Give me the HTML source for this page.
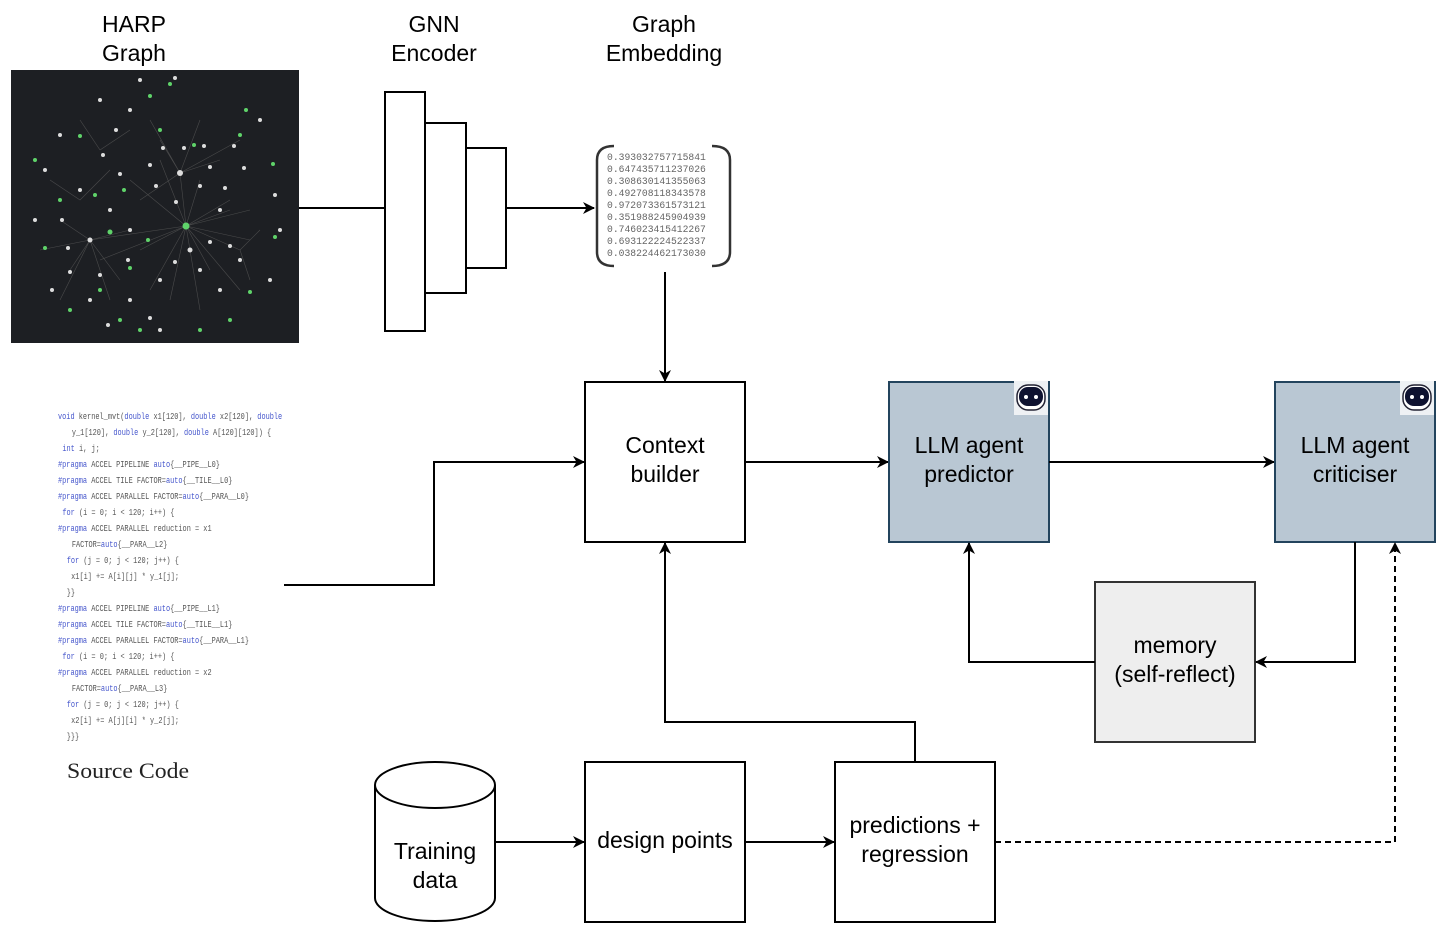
<!DOCTYPE html>
<html><head><meta charset="utf-8"><style>
html,body{margin:0;padding:0;background:#fff;}
svg{display:block;}
.t{font-family:"Liberation Sans",sans-serif;font-size:23px;fill:#000;text-anchor:middle;}
.c{font-family:"Liberation Mono",monospace;font-size:9.5px;fill:#555;}
.k{fill:#4455cc;}
.e{font-family:"Liberation Mono",monospace;font-size:9.7px;fill:#666;}
</style></head><body>
<svg width="1454" height="952" viewBox="0 0 1454 952" xmlns="http://www.w3.org/2000/svg">
<defs><marker id="a" markerWidth="12" markerHeight="12" refX="11" refY="6" orient="auto" markerUnits="userSpaceOnUse"><path d="M0,0 L12,6 L0,12 L3.5,6 z" fill="#000"/></marker></defs>
<text class="t" x="134" y="32">HARP</text><text class="t" x="134" y="61">Graph</text>
<text class="t" x="434" y="32">GNN</text><text class="t" x="434" y="61">Encoder</text>
<text class="t" x="664" y="32">Graph</text><text class="t" x="664" y="61">Embedding</text>
<rect x="11" y="70" width="288" height="273" fill="#1d1f23"/>
<g stroke="#555" stroke-width="0.6" opacity="0.8">
<path d="M186 226 L130 180 M186 226 L180 173 M186 226 L240 250 M186 226 L90 240 M186 226 L200 180 M186 226 L160 160 M186 226 L230 210 M186 226 L100 260 M186 226 L210 270 M186 226 L150 290 M180 173 L160 140 M180 173 L200 120 M180 173 L220 160 M180 173 L140 200 M90 240 L60 220 M90 240 L70 270 M90 240 L120 280 M240 250 L260 230 M240 250 L250 280 M80 200 L50 180 M80 200 L110 170 M100 150 L80 120 M100 150 L130 130 M186 226 L250 240 M186 226 L240 290 M186 226 L200 310 M186 226 L170 300 M186 226 L230 200 M186 226 L250 210 M186 226 L140 250 M90 240 L40 250 M90 240 L60 300 M90 240 L110 300 M90 240 L130 230 M180 173 L240 140 M180 173 L150 120"/>
</g>
<g fill="#ddd">
<circle cx="180" cy="173" r="3"/><circle cx="163" cy="148" r="2"/><circle cx="184" cy="148" r="2"/><circle cx="204" cy="146" r="2"/><circle cx="210" cy="167" r="2"/><circle cx="200" cy="186" r="2"/><circle cx="156" cy="186" r="2"/><circle cx="176" cy="202" r="2"/><circle cx="150" cy="165" r="2"/><circle cx="225" cy="188" r="2"/><circle cx="244" cy="168" r="2"/><circle cx="234" cy="146" r="2"/><circle cx="90" cy="240" r="2.5"/><circle cx="68" cy="248" r="2"/><circle cx="62" cy="220" r="2"/><circle cx="80" cy="190" r="2"/><circle cx="103" cy="155" r="2"/><circle cx="120" cy="174" r="2"/><circle cx="110" cy="210" r="2"/><circle cx="130" cy="230" r="2"/><circle cx="70" cy="272" r="2"/><circle cx="100" cy="275" r="2"/><circle cx="190" cy="250" r="2.5"/><circle cx="210" cy="242" r="2"/><circle cx="230" cy="246" r="2"/><circle cx="240" cy="260" r="2"/><circle cx="200" cy="270" r="2"/><circle cx="175" cy="262" r="2"/><circle cx="160" cy="280" r="2"/><circle cx="130" cy="300" r="2"/><circle cx="150" cy="318" r="2"/><circle cx="108" cy="325" r="2"/><circle cx="90" cy="300" r="2"/><circle cx="140" cy="80" r="2"/><circle cx="175" cy="78" r="2"/><circle cx="100" cy="100" r="2"/><circle cx="60" cy="135" r="2"/><circle cx="35" cy="220" r="2"/><circle cx="275" cy="195" r="2"/><circle cx="280" cy="230" r="2"/><circle cx="260" cy="120" r="2"/><circle cx="45" cy="170" r="2"/><circle cx="130" cy="110" r="2"/><circle cx="160" cy="330" r="2"/><circle cx="220" cy="290" r="2"/><circle cx="270" cy="280" r="2"/><circle cx="128" cy="260" r="2"/><circle cx="52" cy="290" r="2"/><circle cx="116" cy="130" r="2"/><circle cx="220" cy="210" r="2"/>
</g>
<g fill="#5fd36a">
<circle cx="186" cy="226" r="3.5"/><circle cx="110" cy="232" r="2.5"/><circle cx="194" cy="145" r="2"/><circle cx="80" cy="136" r="2"/><circle cx="45" cy="248" r="2"/><circle cx="70" cy="310" r="2"/><circle cx="120" cy="320" r="2"/><circle cx="150" cy="96" r="2"/><circle cx="160" cy="130" r="2"/><circle cx="240" cy="135" r="2"/><circle cx="273" cy="164" r="2"/><circle cx="250" cy="292" r="2"/><circle cx="200" cy="330" r="2"/><circle cx="35" cy="160" r="2"/><circle cx="124" cy="190" r="2"/><circle cx="60" cy="200" r="2"/><circle cx="100" cy="290" r="2"/><circle cx="130" cy="268" r="2"/><circle cx="148" cy="240" r="2"/><circle cx="170" cy="84" r="2"/><circle cx="246" cy="110" r="2"/><circle cx="275" cy="237" r="2"/><circle cx="95" cy="195" r="2"/><circle cx="140" cy="330" r="2"/><circle cx="230" cy="320" r="2"/>
</g>
<line x1="299" y1="208" x2="385" y2="208" stroke="#000" stroke-width="2"/>
<rect x="385" y="92" width="40" height="239" fill="#fff" stroke="#000" stroke-width="2"/>
<rect x="425" y="123" width="41" height="170" fill="#fff" stroke="#000" stroke-width="2"/>
<rect x="466" y="148" width="40" height="120" fill="#fff" stroke="#000" stroke-width="2"/>
<line x1="506" y1="208" x2="594" y2="208" stroke="#000" stroke-width="2" marker-end="url(#a)"/>
<path d="M614 146 Q597 146 597 160 L597 252 Q597 266 614 266" fill="none" stroke="#333" stroke-width="2.5"/>
<path d="M712 146 Q730 146 730 160 L730 252 Q730 266 712 266" fill="none" stroke="#333" stroke-width="2.5"/>
<g class="e">
<text x="607" y="160">0.393032757715841</text><text x="607" y="172">0.647435711237026</text><text x="607" y="184">0.308630141355063</text><text x="607" y="196">0.492708118343578</text><text x="607" y="208">0.972073361573121</text><text x="607" y="220">0.351988245904939</text><text x="607" y="232">0.746023415412267</text><text x="607" y="244">0.693122224522337</text><text x="607" y="256">0.038224462173030</text>
</g>
<line x1="665" y1="272" x2="665" y2="381" stroke="#000" stroke-width="2" marker-end="url(#a)"/>
<g class="c" transform="translate(58,0) scale(0.73,1) translate(-58,0)">
<text x="58" y="419"><tspan class="k">void</tspan> kernel_mvt(<tspan class="k">double</tspan> x1[120], <tspan class="k">double</tspan> x2[120], <tspan class="k">double</tspan></text>
<text x="77" y="435">y_1[120], <tspan class="k">double</tspan> y_2[120], <tspan class="k">double</tspan> A[120][120]) {</text>
<text x="64" y="451"><tspan class="k">int</tspan> i, j;</text>
<text x="58" y="467"><tspan class="k">#pragma</tspan> ACCEL PIPELINE <tspan class="k">auto</tspan>{__PIPE__L0}</text>
<text x="58" y="483"><tspan class="k">#pragma</tspan> ACCEL TILE FACTOR=<tspan class="k">auto</tspan>{__TILE__L0}</text>
<text x="58" y="499"><tspan class="k">#pragma</tspan> ACCEL PARALLEL FACTOR=<tspan class="k">auto</tspan>{__PARA__L0}</text>
<text x="64" y="515"><tspan class="k">for</tspan> (i = 0; i &lt; 120; i++) {</text>
<text x="58" y="531"><tspan class="k">#pragma</tspan> ACCEL PARALLEL reduction = x1</text>
<text x="77" y="547">FACTOR=<tspan class="k">auto</tspan>{__PARA__L2}</text>
<text x="70" y="563"><tspan class="k">for</tspan> (j = 0; j &lt; 120; j++) {</text>
<text x="76" y="579">x1[i] += A[i][j] * y_1[j];</text>
<text x="70" y="595">}}</text>
<text x="58" y="611"><tspan class="k">#pragma</tspan> ACCEL PIPELINE <tspan class="k">auto</tspan>{__PIPE__L1}</text>
<text x="58" y="627"><tspan class="k">#pragma</tspan> ACCEL TILE FACTOR=<tspan class="k">auto</tspan>{__TILE__L1}</text>
<text x="58" y="643"><tspan class="k">#pragma</tspan> ACCEL PARALLEL FACTOR=<tspan class="k">auto</tspan>{__PARA__L1}</text>
<text x="64" y="659"><tspan class="k">for</tspan> (i = 0; i &lt; 120; i++) {</text>
<text x="58" y="675"><tspan class="k">#pragma</tspan> ACCEL PARALLEL reduction = x2</text>
<text x="77" y="691">FACTOR=<tspan class="k">auto</tspan>{__PARA__L3}</text>
<text x="70" y="707"><tspan class="k">for</tspan> (j = 0; j &lt; 120; j++) {</text>
<text x="76" y="723">x2[i] += A[j][i] * y_2[j];</text>
<text x="70" y="739">}}}</text>
</g>
<text x="67" y="778" textLength="122" lengthAdjust="spacingAndGlyphs" style="font-family:'Liberation Serif',serif;font-size:22px;fill:#222">Source Code</text>
<polyline points="284,585 434,585 434,462 584,462" fill="none" stroke="#000" stroke-width="2" marker-end="url(#a)"/>
<rect x="585" y="382" width="160" height="160" fill="#fff" stroke="#000" stroke-width="2"/>
<text class="t" x="665" y="453">Context</text><text class="t" x="665" y="482">builder</text>
<line x1="745" y1="462" x2="888" y2="462" stroke="#000" stroke-width="2" marker-end="url(#a)"/>
<rect x="889" y="382" width="160" height="160" fill="#b9c7d3" stroke="#23445d" stroke-width="2"/>
<text class="t" x="969" y="453">LLM agent</text><text class="t" x="969" y="482">predictor</text>
<g transform="translate(1014,381)"><rect x="0" y="0" width="34" height="34" fill="#eef1f4"/><rect x="3" y="4" width="28" height="25" rx="11" fill="#fff" stroke="#223" stroke-width="1.5"/><rect x="5" y="6" width="24" height="19" rx="9" fill="#0e1230"/><circle cx="12" cy="16" r="2" fill="#fff"/><circle cx="22" cy="16" r="2" fill="#fff"/></g>
<line x1="1049" y1="462" x2="1274" y2="462" stroke="#000" stroke-width="2" marker-end="url(#a)"/>
<rect x="1275" y="382" width="160" height="160" fill="#b9c7d3" stroke="#23445d" stroke-width="2"/>
<text class="t" x="1355" y="453">LLM agent</text><text class="t" x="1355" y="482">criticiser</text>
<g transform="translate(1400,381)"><rect x="0" y="0" width="34" height="34" fill="#eef1f4"/><rect x="3" y="4" width="28" height="25" rx="11" fill="#fff" stroke="#223" stroke-width="1.5"/><rect x="5" y="6" width="24" height="19" rx="9" fill="#0e1230"/><circle cx="12" cy="16" r="2" fill="#fff"/><circle cx="22" cy="16" r="2" fill="#fff"/></g>
<rect x="1095" y="582" width="160" height="160" fill="#eeeeee" stroke="#333" stroke-width="2"/>
<text class="t" x="1175" y="653">memory</text><text class="t" x="1175" y="682">(self-reflect)</text>
<polyline points="1355,542 1355,662 1256,662" fill="none" stroke="#000" stroke-width="2" marker-end="url(#a)"/>
<polyline points="1095,662 969,662 969,543" fill="none" stroke="#000" stroke-width="2" marker-end="url(#a)"/>
<path d="M375 785 A60 23 0 0 1 495 785 L495 898 A60 23 0 0 1 375 898 Z" fill="#fff" stroke="#000" stroke-width="2"/>
<path d="M375 785 A60 23 0 0 0 495 785" fill="none" stroke="#000" stroke-width="2"/>
<text class="t" x="435" y="859">Training</text><text class="t" x="435" y="888">data</text>
<line x1="495" y1="842" x2="584" y2="842" stroke="#000" stroke-width="2" marker-end="url(#a)"/>
<rect x="585" y="762" width="160" height="160" fill="#fff" stroke="#000" stroke-width="2"/>
<text class="t" x="665" y="848">design points</text>
<line x1="745" y1="842" x2="834" y2="842" stroke="#000" stroke-width="2" marker-end="url(#a)"/>
<rect x="835" y="762" width="160" height="160" fill="#fff" stroke="#000" stroke-width="2"/>
<text class="t" x="915" y="833">predictions +</text><text class="t" x="915" y="862">regression</text>
<polyline points="915,762 915,722 665,722 665,543" fill="none" stroke="#000" stroke-width="2" marker-end="url(#a)"/>
<polyline points="995,842 1395,842 1395,543" fill="none" stroke="#000" stroke-width="2" stroke-dasharray="6,4" marker-end="url(#a)"/>
</svg>
</body></html>
